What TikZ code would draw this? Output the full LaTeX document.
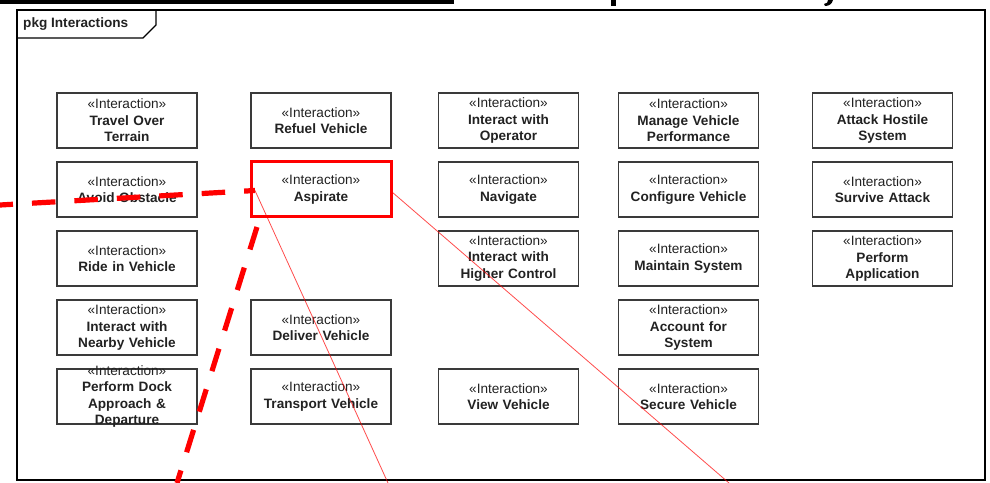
\documentclass[tikz,border=0pt]{standalone}
\usepackage{fontspec}
\setmainfont{Liberation Sans}
\definecolor{boxline}{HTML}{3A3A3A}
\definecolor{ink}{HTML}{222222}
\definecolor{mark}{HTML}{FF0000}
\newcommand\iact[5]{%
  \node[ibox,#4] (#1) at (#2,#3) {};
  \node[itext] (#1t) at (#1.center) {«Interaction»\\\textbf{#5}};}
\begin{document}
\begin{tikzpicture}[x=1bp,y=-1bp,
  ibox/.style={draw=boxline, line width=1.2bp, fill=white,
    minimum width=140bp, minimum height=55bp, inner sep=0pt},
  itext/.style={align=center, text width=150bp, inner sep=0pt, text=ink,
    font=\fontsize{13.6bp}{16.5bp}\selectfont},
  hot/.style={draw=mark, line width=3bp},
  thickmark/.style={draw=mark, line width=5.2bp, dash pattern=on 23.5bp off 19bp},
  thinmark/.style={draw=mark, draw opacity=0.7, line width=0.8bp}]
\useasboundingbox (0,0) rectangle (990,483);

% remains of the heading above the frame
\fill (0,0) rectangle (454,4);
\fill (611,0) rectangle (616,6);
\fill (833,0) .. controls (832,4) and (829,6) .. (825,6) -- (824,4)
  .. controls (827,4) and (828,2) .. (828,0) -- cycle;

% package frame with its name tab
\draw[line width=1.2bp] (17,10) rectangle (985,480);
\draw[line width=1.2bp] (17,38) -- (143,38) -- (156,25) -- (156,10);
\node[anchor=west, inner sep=0pt, text=ink,
  font=\fontsize{13.6bp}{16bp}\selectfont\bfseries] (tab) at (23,24.5) {pkg Interactions};

% interaction boxes: name, x, y, box style, title
\iact{travel}{127}{120.5}{}{Travel Over\\Terrain}
\iact{avoid}{127}{189.5}{}{Avoid Obstacle}
\iact{ride}{127}{258.5}{}{Ride in Vehicle}
\iact{nearby}{127}{327.5}{}{Interact with\\Nearby Vehicle}
\iact{dock}{127}{396.5}{}{Perform Dock\\Approach \&\\Departure}

\iact{refuel}{321}{120.5}{}{Refuel Vehicle}
\iact{asp}{321}{189.5}{hot}{Aspirate}
\iact{deliver}{321}{327.5}{}{Deliver Vehicle}
\iact{transport}{321}{396.5}{}{Transport Vehicle}

\iact{operator}{508.5}{120.5}{}{Interact with\\Operator}
\iact{navigate}{508.5}{189.5}{}{Navigate}
\iact{higher}{508.5}{258.5}{}{Interact with\\Higher Control}
\iact{view}{508.5}{396.5}{}{View Vehicle}

\iact{manage}{688.5}{120.5}{}{Manage Vehicle\\Performance}
\iact{configure}{688.5}{189.5}{}{Configure Vehicle}
\iact{maintain}{688.5}{258.5}{}{Maintain System}
\iact{account}{688.5}{327.5}{}{Account for\\System}
\iact{secure}{688.5}{396.5}{}{Secure Vehicle}

\iact{attack}{882.5}{120.5}{}{Attack Hostile\\System}
\iact{survive}{882.5}{189.5}{}{Survive Attack}
\iact{apply}{882.5}{258.5}{}{Perform\\Application}

% red strokes over the diagram
\coordinate (west) at (0,205);
\coordinate (hubL) at (255,190.5);
\coordinate (hubR) at (392,192);
\coordinate (down) at (260.1,217);
\coordinate (endA) at (177,483);
\coordinate (endB) at (388,483);
\coordinate (endC) at (729,483);

\draw[thickmark, dash phase=10.5bp] (west) -- (hubL);
\draw[thickmark, dash phase=32bp] (down) -- (endA);
\draw[thinmark] (hubL) -- (endB);
\draw[thinmark] (hubR) -- (endC);
\end{tikzpicture}
\end{document}
